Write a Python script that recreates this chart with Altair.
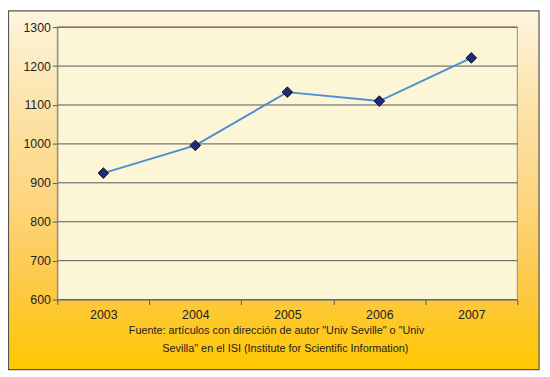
import altair as alt
import pandas as pd

years = ["2003", "2004", "2005", "2006", "2007"]
values = [925, 996, 1133, 1110, 1221]
y_ticks = [600, 700, 800, 900, 1000, 1100, 1200, 1300]
caption_lines = [
    'Fuente: artículos con dirección de autor "Univ Seville" o "Univ',
    'Sevilla" en el ISI (Institute for Scientific Information)',
]

W, H = 466, 276
FONT = "Liberation Sans"

df = pd.DataFrame({"year": years, "value": values})
grid_df = pd.DataFrame({"value": y_ticks})

x = alt.X("year:N", sort=years, title=None,
          axis=alt.Axis(labelAngle=0, tickBand="extent", tickSize=5, tickColor="#555",
                        domainColor="#777", labelFontSize=12.5, labelColor="#222",
                        labelFont=FONT, labelPadding=4, zindex=1, grid=False))
y = alt.Y("value:Q", scale=alt.Scale(domain=[600, 1300], nice=False, zero=False), title=None,
          axis=alt.Axis(values=y_ticks, format="d", tickSize=5, tickColor="#555",
                        domainColor="#888", labelFontSize=12.5, labelColor="#222",
                        labelFont=FONT, labelPadding=2, zindex=1, grid=False))

bg = alt.Chart(alt.Data(values=[{}])).mark_rect(
    fill={"gradient": "linear", "x1": 0, "y1": 0, "x2": 0, "y2": 1,
          "stops": [{"offset": 0, "color": "#FDF5DE"},
                    {"offset": 0.25, "color": "#FCE4AC"},
                    {"offset": 0.53, "color": "#FDD580"},
                    {"offset": 0.77, "color": "#FDC945"},
                    {"offset": 1, "color": "#FFC800"}]},
    stroke="#555", strokeWidth=1.2
).encode(x=alt.value(-49.5), x2=alt.value(488), y=alt.value(-16.5), y2=alt.value(347))

plotfill = alt.Chart(alt.Data(values=[{}])).mark_rect(
    fill="#FCF5D6", stroke="#8a8a8a", strokeWidth=1
).encode(x=alt.value(0), x2=alt.value(W), y=alt.value(0), y2=alt.value(H))

grid = alt.Chart(grid_df).mark_rule(color="#555", strokeWidth=1).encode(
    y=y, x=alt.value(0), x2=alt.value(W))

line = alt.Chart(df).mark_line(color="#4A8FD6", strokeWidth=2).encode(x=x, y=y)
pts = alt.Chart(df).mark_point(shape="diamond", filled=True, size=115, fill="#1E2A7A",
                               stroke="#111", strokeWidth=1, opacity=1).encode(x=x, y=y)

cap1 = alt.Chart(pd.DataFrame({"t": [caption_lines[0]]})).mark_text(
    fontSize=11, font=FONT, color="#222", align="center", baseline="middle"
).encode(text="t:N", x=alt.value(222), y=alt.value(308))
cap2 = alt.Chart(pd.DataFrame({"t": [caption_lines[1]]})).mark_text(
    fontSize=11, font=FONT, color="#222", align="center", baseline="middle"
).encode(text="t:N", x=alt.value(231), y=alt.value(326))

chart = alt.layer(bg, plotfill, grid, line, pts, cap1, cap2).properties(
    width=W, height=H,
    autosize=alt.AutoSizeParams(type="none"),
    padding={"left": 50, "top": 17, "right": 25, "bottom": 73},
).configure_view(stroke=None).configure(background="white")

chart.save("out.html", embed_options={"renderer": "svg", "actions": False})
